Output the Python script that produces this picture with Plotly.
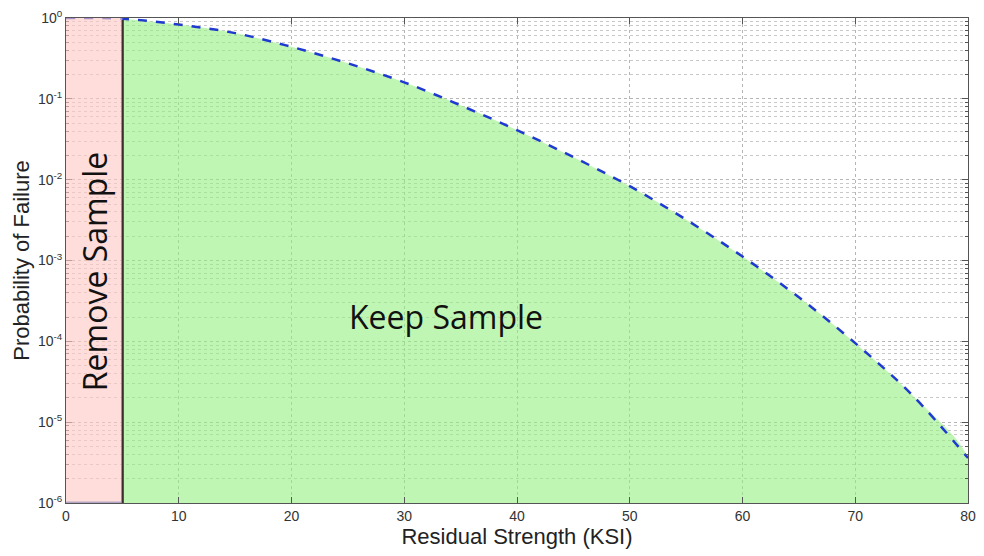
import plotly.graph_objects as go

# Curve: residual strength (KSI) vs probability of failure
strength = [0, 5, 10, 15, 20, 25, 30, 35, 40, 45, 50, 55, 60, 65, 70, 75, 80]
prob_fail = [1.0, 0.98, 0.83, 0.65, 0.44, 0.275, 0.16, 0.083, 0.041, 0.019,
             0.0083, 0.0032, 0.00112, 0.00035, 9.5e-5, 2.2e-5, 3.6e-6]

threshold = 5          # KSI, remove/keep boundary
x_range = [0, 80]
y_floor = 1e-6
y_top = 1.0

y_tickvals = [1e-6, 1e-5, 1e-4, 1e-3, 1e-2, 1e-1, 1]
y_ticktext = ["10<sup>-6</sup>", "10<sup>-5</sup>", "10<sup>-4</sup>", "10<sup>-3</sup>",
              "10<sup>-2</sup>", "10<sup>-1</sup>", "10<sup>0</sup>"]
y_minor_vals = [m * d for d in y_tickvals[:-1] for m in range(2, 10)]
x_tickvals = [0, 10, 20, 30, 40, 50, 60, 70, 80]

keep_x = [s for s in strength if s >= threshold]
keep_y = [p for s, p in zip(strength, prob_fail) if s >= threshold]

fig = go.Figure()

# green "keep" region under the curve
fig.add_trace(go.Scatter(
    x=keep_x + [keep_x[-1], keep_x[0]],
    y=keep_y + [y_floor, y_floor],
    fill="toself", fillcolor="rgba(150,240,130,0.6)",
    line=dict(width=0, shape="spline"), mode="lines", hoverinfo="skip", showlegend=False))

# blue floor line in the remove region
fig.add_trace(go.Scatter(x=[x_range[0], threshold], y=[y_floor, y_floor], mode="lines",
                         line=dict(color="#3a6fc4", width=3), showlegend=False))

# threshold vertical line
fig.add_trace(go.Scatter(x=[threshold, threshold], y=[y_floor, y_top], mode="lines",
                         line=dict(color="black", width=2.5), showlegend=False))

# dashed probability curve
fig.add_trace(go.Scatter(x=strength, y=prob_fail, mode="lines",
                         line=dict(color="#1f3ad0", width=2.5, dash="dash", shape="spline"),
                         showlegend=False))

# pink remove region
fig.add_shape(type="rect", xref="x", yref="paper", x0=x_range[0], x1=threshold, y0=0, y1=1,
              fillcolor="rgba(255,200,195,0.62)", line=dict(width=0), layer="above")

fig.add_annotation(x=2.6, y=-3.14, xref="x", yref="y", text="Remove Sample", showarrow=False,
                   textangle=-90, font=dict(family="Open Sans", size=32, color="#111"))
fig.add_annotation(x=33.7, y=-3.69, xref="x", yref="y", text="Keep Sample", showarrow=False,
                   font=dict(family="Open Sans", size=32, color="#111"))

axis_common = dict(showline=True, linecolor="#555", linewidth=1, mirror="allticks",
                   ticks="inside", ticklen=6, tickcolor="#555",
                   showgrid=True, gridcolor="#b5b5b5", griddash="dot", gridwidth=1,
                   zeroline=False, tickfont=dict(family="Liberation Sans", size=14, color="#333"),
                   title_font=dict(family="Liberation Sans", size=22, color="#222"))

fig.update_xaxes(range=x_range, tickvals=x_tickvals, title_text="Residual Strength (KSI)",
                 title_standoff=4, **axis_common)
fig.update_yaxes(type="log", range=[-6, 0], tickvals=y_tickvals, ticktext=y_ticktext,
                 title_text="Probability of Failure", title_standoff=2,
                 minor=dict(tickmode="array", tickvals=y_minor_vals, ticks="inside", ticklen=3,
                            tickcolor="#555", showgrid=True, gridcolor="#c8c8c8", griddash="dot"),
                 **axis_common)

fig.update_layout(width=984, height=556, margin=dict(l=66, r=8, t=15, b=53),
                  plot_bgcolor="white", paper_bgcolor="white")

fig.write_html("out.html")
